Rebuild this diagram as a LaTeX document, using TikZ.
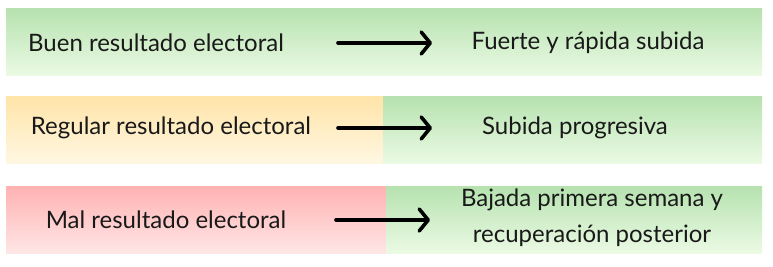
\documentclass[tikz,border=0pt]{standalone}
\usepackage{fontspec}
\setmainfont{Lato}
\usetikzlibrary{arrows.meta}
\definecolor{gtop}{RGB}{182,226,175}
\definecolor{gbot}{RGB}{235,250,228}
\definecolor{ytop}{RGB}{255,228,168}
\definecolor{ybot}{RGB}{255,247,226}
\definecolor{rtop}{RGB}{255,178,178}
\definecolor{rbot}{RGB}{255,230,230}
\tikzset{
  bar/.style={draw=none, rectangle, inner sep=0pt, anchor=north west},
  greenbar/.style={bar, top color=gtop, bottom color=gbot},
  yellowbar/.style={bar, top color=ytop, bottom color=ybot},
  redbar/.style={bar, top color=rtop, bottom color=rbot},
  lbl/.style={font=\fontsize{24}{36}\selectfont, align=center, inner sep=0pt, text=black!90},
  conn/.style={line width=3.6pt, line cap=round, -{Straight Barb[length=9pt, width=22pt, line cap=round, line join=round]}}
}
\begin{document}
\begin{tikzpicture}[x=1pt, y=-1pt]
\useasboundingbox (0,0) rectangle (773,267);
% row 1
\node[greenbar, minimum width=756pt, minimum height=67pt] (r1) at (6,8) {};
% row 2
\node[yellowbar, minimum width=377pt, minimum height=67pt] (r2l) at (6,96) {};
\node[greenbar, minimum width=379pt, minimum height=67pt] (r2r) at (383,96) {};
% row 3
\node[redbar, minimum width=380pt, minimum height=67pt] (r3l) at (6,186) {};
\node[greenbar, minimum width=376pt, minimum height=67pt] (r3r) at (386,186) {};
% labels
\node[lbl] (a1) at (156,43) {Buen resultado electoral};
\node[lbl] (b1) at (588,43) {Fuerte y rápida subida};
\node[lbl] (a2) at (171,128) {Regular resultado electoral};
\node[lbl] (b2) at (575,128) {Subida progresiva};
\node[lbl] (a3) at (166,220) {Mal resultado electoral};
\node[lbl] (b3) at (592,218) {Bajada primera semana y\\recuperación posterior};
% arrows
\coordinate (s1) at (338,43); \coordinate (e1) at (432,43);
\coordinate (s2) at (338,128); \coordinate (e2) at (432,128);
\coordinate (s3) at (336,220); \coordinate (e3) at (430,220);
\draw[conn] (s1) -- (e1);
\draw[conn] (s2) -- (e2);
\draw[conn] (s3) -- (e3);
\end{tikzpicture}
\end{document}
